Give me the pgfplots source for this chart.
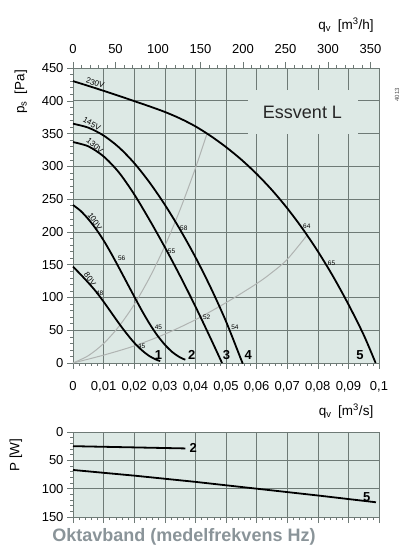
\documentclass[border=0pt]{standalone}
\usepackage{fontspec}
\setmainfont{Liberation Sans}
\usepackage{pgfplots}
\pgfplotsset{compat=1.18}

\definecolor{bgc}{HTML}{DDE9E5}
\definecolor{gridc}{HTML}{6E7A76}
\definecolor{sysc}{HTML}{B0B4B2}
\definecolor{oktc}{HTML}{8A9499}

\pgfplotsset{
  common/.style={
    scale only axis, width=306pt,
    axis line style={gridc, line width=0.6pt},
    tick style={gridc, line width=0.5pt},
    major tick length=6pt, minor tick length=3pt,
    tick align=outside,
    grid=major, major grid style={gridc, line width=0.6pt},
    axis background/.style={fill=bgc},
    tick label style={font=\fontsize{13}{15}\selectfont},
    /pgf/number format/assume math mode=true,
    clip=false,
  },
  fan/.style={black, line width=1.8pt, smooth, no markers},
  sys/.style={sysc, line width=1pt, smooth, no markers},
}
\tikzset{
  vlab/.style={font=\fontsize{8}{9}\selectfont, inner sep=0.6pt, anchor=south},
  nlab/.style={font=\fontsize{6.5}{7}\selectfont, inner sep=0pt},
  elab/.style={font=\bfseries\fontsize{13}{15}\selectfont, inner sep=0pt},
  ttl/.style={font=\fontsize{13.5}{15}\selectfont},
}

\begin{document}
\begin{tikzpicture}[x=1pt,y=1pt]
\useasboundingbox (0,0) rectangle (408,551);

% main chart: static pressure
\begin{axis}[common, at={(73pt,188pt)}, anchor=south west, height=295pt,
  xmin=0, xmax=0.1, ymin=0, ymax=450,
  xtick={0,0.01,0.02,0.03,0.04,0.05,0.06,0.07,0.08,0.09,0.1},
  xticklabels={0,{0,01},{0,02},{0,03},{0,04},{0,05},{0,06},{0,07},{0,08},{0,09},{0,1}},
  xticklabel style={yshift=-9pt},
  ytick={0,50,...,450},
  minor x tick num=4, minor y tick num=4,
  xtick pos=left, ytick pos=left,
]
% system curves
\addplot[sys] coordinates {(0,0) (0.005,11.2) (0.01,29.7) (0.015,55.8) (0.02,89.2) (0.025,130) (0.03,178.3) (0.035,234) (0.04,297.1) (0.0438,350)};
\addplot[sys] coordinates {(0,0) (0.01,12) (0.02,26) (0.03,44) (0.04,66) (0.05,92) (0.06,121) (0.065,138) (0.07,158) (0.0765,195)};
% fan curves
\addplot[fan] coordinates {(0,430) (0.005,422.7) (0.01,415.2) (0.015,407.5) (0.02,399.5) (0.025,391.5) (0.03,383) (0.035,373) (0.04,361) (0.045,346.3) (0.05,329.4) (0.055,310.3) (0.06,288.5) (0.065,263.9) (0.07,236.1) (0.075,205) (0.08,170.4) (0.085,132) (0.09,89.5) (0.095,42.8) (0.0989,0)};
\addplot[fan] coordinates {(0,365) (0.005,359) (0.01,347) (0.015,329) (0.02,305) (0.025,275.5) (0.03,241.5) (0.035,203.5) (0.04,161.5) (0.045,115) (0.05,63.5) (0.055,4.5) (0.0554,0)};
\addplot[fan] coordinates {(0,337) (0.005,330.5) (0.01,315.1) (0.015,290.7) (0.02,257.3) (0.025,218.3) (0.03,176.8) (0.035,132.8) (0.04,86.3) (0.045,37.3) (0.0487,0)};
\addplot[fan] coordinates {(0,241) (0.0025,232) (0.005,219.5) (0.0075,204.5) (0.01,187) (0.0125,167) (0.015,145.5) (0.0175,123.5) (0.02,101.5) (0.0225,80) (0.025,60) (0.0275,42.5) (0.03,28) (0.0325,16.5) (0.035,8.5) (0.0367,5)};
\addplot[fan] coordinates {(0,147) (0.0025,135) (0.005,122.5) (0.0075,109) (0.01,93.5) (0.0125,77) (0.015,60.5) (0.0175,45) (0.02,31) (0.0225,19.5) (0.025,10.5) (0.0275,4.5) (0.0285,3)};

\node[fill=bgc, minimum width=110pt, minimum height=44pt, inner sep=0pt,
  font=\fontsize{18}{20}\selectfont, text=black!85] at (axis cs:0.075,383) {Essvent L};

\node[vlab, rotate=-18] at (axis cs:0.0069,422) {230V};
\node[vlab, rotate=-28] at (axis cs:0.0056,360) {145V};
\node[vlab, rotate=-40] at (axis cs:0.0064,327) {130V};
\node[vlab, rotate=-55] at (axis cs:0.0062,213) {100V};
\node[vlab, rotate=-55] at (axis cs:0.0046,125) {80V};

\node[nlab] at (axis cs:0.0362,205) {58};
\node[nlab] at (axis cs:0.0322,170) {55};
\node[nlab] at (axis cs:0.0159,160) {56};
\node[nlab] at (axis cs:0.0087,107) {48};
\node[nlab] at (axis cs:0.0224,25) {45};
\node[nlab] at (axis cs:0.0279,55) {45};
\node[nlab] at (axis cs:0.0437,70) {52};
\node[nlab] at (axis cs:0.0529,54) {54};
\node[nlab] at (axis cs:0.0764,208) {64};
\node[nlab] at (axis cs:0.0845,152) {65};

\node[elab] at (axis cs:0.0279,12) {1};
\node[elab] at (axis cs:0.0388,12) {2};
\node[elab] at (axis cs:0.0502,12) {3};
\node[elab] at (axis cs:0.0573,12) {4};
\node[elab] at (axis cs:0.0938,12) {5};
\end{axis}

% top axis in m3/h
\begin{axis}[scale only axis, width=306pt, height=295pt, at={(73pt,188pt)}, anchor=south west,
  xmin=0, xmax=360, ymin=0, ymax=1,
  axis x line*=top, axis y line=none,
  axis line style={gridc, line width=0.6pt},
  tick style={gridc, line width=0.5pt},
  major tick length=6pt, minor tick length=3pt, tick align=outside,
  xtick={0,50,...,350}, minor x tick num=4,
  tick label style={font=\fontsize{13}{15}\selectfont},
  xticklabel style={yshift=5pt},
  /pgf/number format/assume math mode=true,
]
\addplot[draw=none] coordinates {(0,0) (360,1)};
\end{axis}

% power chart
\begin{axis}[common, at={(73pt,34pt)}, anchor=south west, height=85pt,
  xmin=0, xmax=0.1, ymin=0, ymax=150, y dir=reverse,
  xtick={0,0.01,0.02,0.03,0.04,0.05,0.06,0.07,0.08,0.09,0.1},
  xticklabels={},
  ytick={0,50,100,150},
  minor x tick num=4, minor y tick num=4,
  xtick pos=left, ytick pos=left,
]
\addplot[black, line width=1.8pt] coordinates {(0,25) (0.0367,29)};
\addplot[black, line width=1.8pt] coordinates {(0,67) (0.02,77) (0.04,88) (0.06,100) (0.08,112) (0.099,124)};
\node[elab] at (axis cs:0.0393,29) {2};
\node[elab] at (axis cs:0.096,114) {5};
\end{axis}

\node[ttl] at (346,526) {q\textsubscript{v}\enspace[m\textsuperscript{3}/h]};
\node[ttl] at (346,140) {q\textsubscript{v}\enspace[m\textsuperscript{3}/s]};
\node[ttl, rotate=90] at (21,459) {p\textsubscript{s}\enspace[Pa]};
\node[ttl, rotate=90] at (16,96) {P [W]};
\node[font=\bfseries\fontsize{18}{20}\selectfont, text=oktc] at (184,14) {Oktavband (medelfrekvens Hz)};
\node[font=\fontsize{6}{7}\selectfont, rotate=90, text=black!70] at (397,456) {4013};
\end{tikzpicture}
\end{document}
